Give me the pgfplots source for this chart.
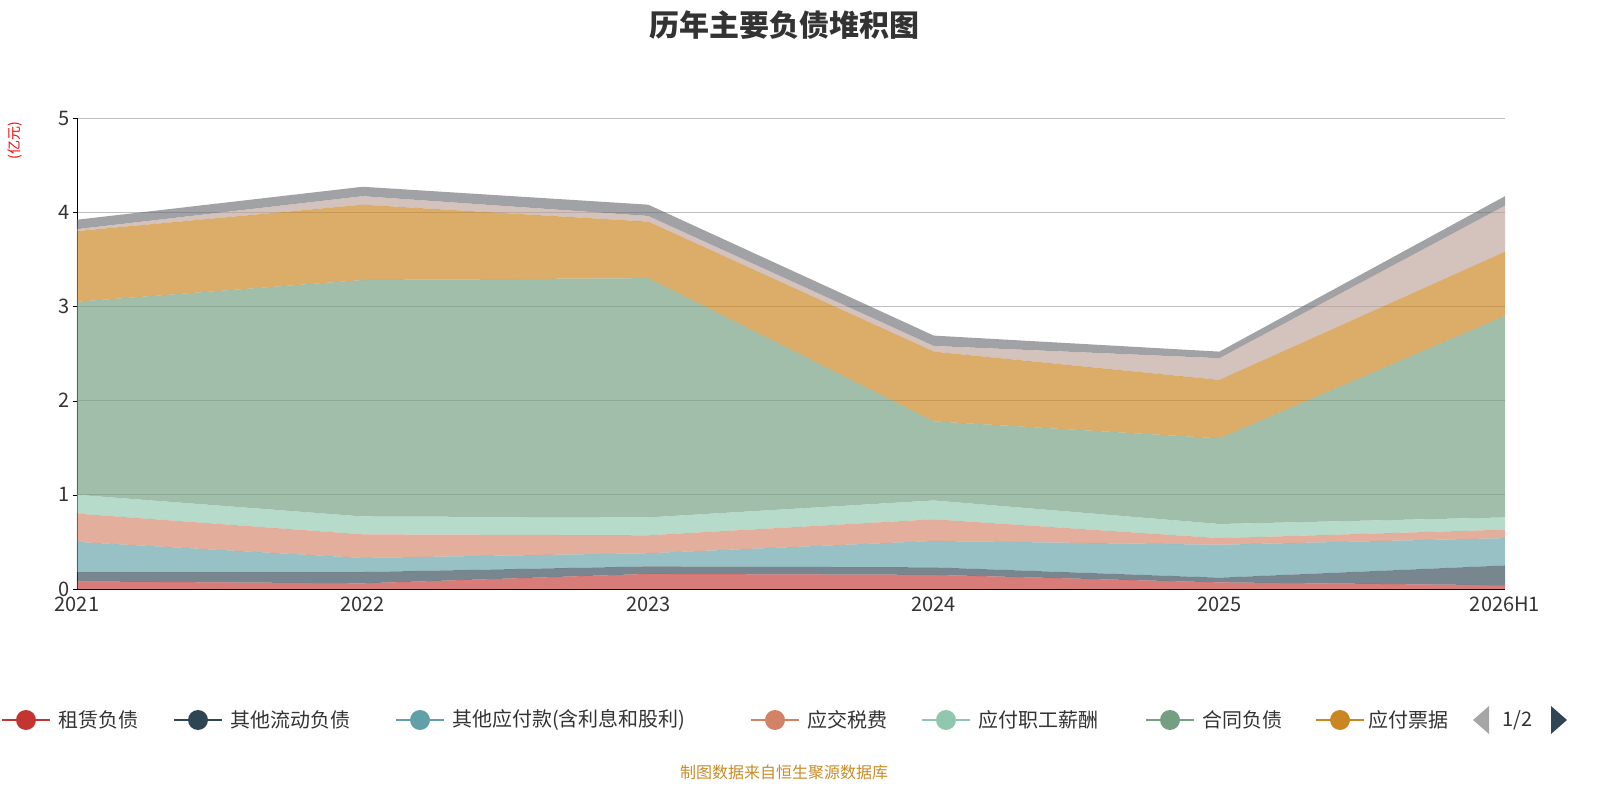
\documentclass[border=0pt]{standalone}
\usepackage{pgfplots}
\pgfplotsset{compat=1.18}
\usepackage{fontspec}
\setmainfont{Noto Sans CJK SC}
\usetikzlibrary{calc}
\definecolor{c1}{HTML}{C23531}\definecolor{c2}{HTML}{2F4554}\definecolor{c3}{HTML}{61A0A8}
\definecolor{c4}{HTML}{D48265}\definecolor{c5}{HTML}{91C7AE}\definecolor{c6}{HTML}{749F83}
\definecolor{c7}{HTML}{CA8622}\definecolor{c8}{HTML}{BDA29A}\definecolor{c9}{HTML}{6E7074}
\begin{document}
\begin{tikzpicture}[x=1pt,y=1pt]
\path[use as bounding box] (-77,-211) rectangle ++(1600,800);
\coordinate (O) at (0,0);
\begin{axis}[name=ax, at={(0,0)}, anchor=south west, scale only axis, width=1428pt, height=471pt,
  xmin=0, xmax=5, ymin=0, ymax=5, stack plots=y,
  xtick={0,...,5}, xticklabels={2021,2022,2023,2024,2025,2026H1},
  ytick={0,...,5}, ymajorgrids, grid style={gray!50, line width=0.8pt},
  axis lines*=left, axis line style={black, line width=0.8pt},
  tick style={black}, xtick style={draw=none}, ytick align=outside,
  tick label style={font=\fontsize{20}{20}\selectfont, text=black!80},
  xticklabel style={yshift=-4pt},
  /pgf/number format/assume math mode=true, clip=false]
\addplot[draw=none, fill=c1, fill opacity=0.65] coordinates {(0,.08)(1,.06)(2,.16)(3,.15)(4,.07)(5,.04)} \closedcycle;
\addplot[draw=none, fill=c2, fill opacity=0.65] coordinates {(0,.10)(1,.12)(2,.08)(3,.08)(4,.05)(5,.21)} \closedcycle;
\addplot[draw=none, fill=c3, fill opacity=0.65] coordinates {(0,.32)(1,.15)(2,.14)(3,.28)(4,.35)(5,.29)} \closedcycle;
\addplot[draw=none, fill=c4, fill opacity=0.65] coordinates {(0,.30)(1,.25)(2,.19)(3,.23)(4,.07)(5,.09)} \closedcycle;
\addplot[draw=none, fill=c5, fill opacity=0.65] coordinates {(0,.20)(1,.19)(2,.19)(3,.20)(4,.15)(5,.13)} \closedcycle;
\addplot[draw=none, fill=c6, fill opacity=0.68] coordinates {(0,2.05)(1,2.51)(2,2.54)(3,.84)(4,.91)(5,2.14)} \closedcycle;
\addplot[draw=none, fill=c7, fill opacity=0.68] coordinates {(0,.75)(1,.80)(2,.60)(3,.74)(4,.62)(5,.68)} \closedcycle;
\addplot[draw=none, fill=c8, fill opacity=0.65] coordinates {(0,.02)(1,.09)(2,.06)(3,.06)(4,.23)(5,.49)} \closedcycle;
\addplot[draw=none, fill=c9, fill opacity=0.65] coordinates {(0,.10)(1,.10)(2,.12)(3,.11)(4,.07)(5,.10)} \closedcycle;
\end{axis}
\node[font=\fontsize{30}{30}\selectfont\bfseries, text=black!80] at ($(O)+(707,564)$) {历年主要负债堆积图};
\node[rotate=90, text=red, font=\fontsize{14}{14}\selectfont] at ($(O)+(-62,448)$) {(亿元)};
\node[text={rgb,255:red,200;green,140;blue,40}, font=\fontsize{16}{16}\selectfont] at ($(O)+(707,-183)$) {制图数据来自恒生聚源数据库};
\begin{scope}[shift={($(O)+(-77,-131)$)}, every node/.style={anchor=west, font=\fontsize{20}{20}\selectfont, text=black!80, inner sep=0}]
\foreach \x/\t/\c in {26/租赁负债/c1, 198/其他流动负债/c2, 420/其他应付款(含利息和股利)/c3, 775/应交税费/c4, 946/应付职工薪酬/c5, 1170/合同负债/c6} {
  \draw[\c, line width=1.2pt] (\x-24,0) -- (\x+24,0);
  \fill[\c] (\x,0) circle (10);
  \node at (\x+32,0) {\t};
}
\draw[c7, line width=1.2pt] (1316,0) -- (1364,0); \fill[c7] (1340,0) circle (10);
\begin{scope}\clip (1360,-20) rectangle (1452,20); \node at (1368,0) {应付票据};\end{scope}
\fill[gray!70] (1489,-14) -- (1489,14) -- (1473,0) -- cycle;
\node at (1502,0) {1/2};
\fill[c2] (1551,-14) -- (1551,14) -- (1567,0) -- cycle;
\end{scope}
\end{tikzpicture}
\end{document}
